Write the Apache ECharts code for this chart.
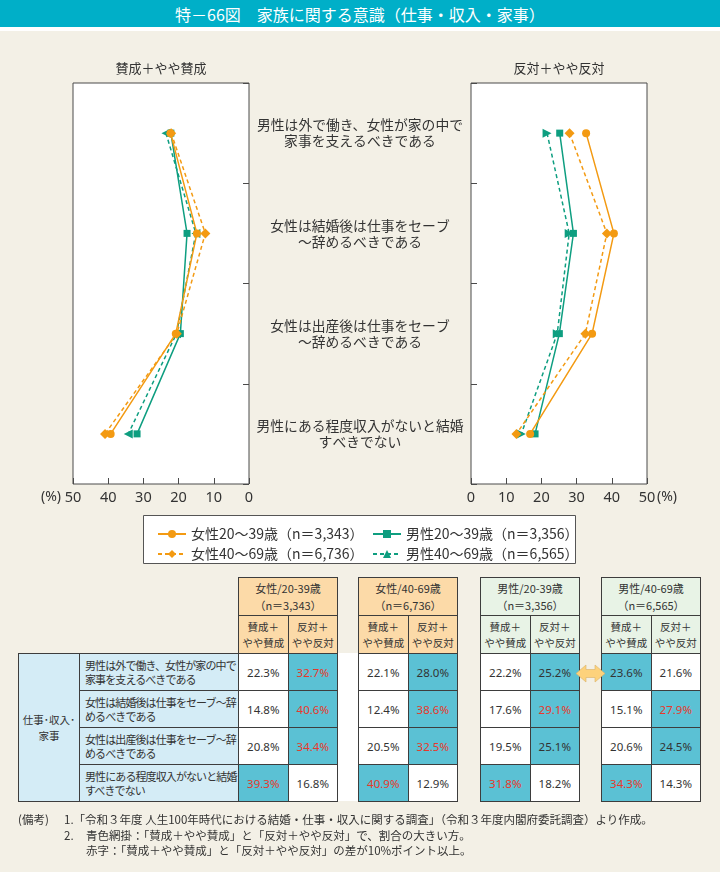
<!DOCTYPE html>
<html>
<head>
<meta charset="utf-8">
<script src="https://cdn.jsdelivr.net/npm/echarts@6/dist/echarts.min.js"></script>
<style>
body { margin: 0; background: #F3F0E6; font-family: "Noto Sans CJK JP", "Noto Sans", sans-serif; color: #333; }
#page { position: relative; width: 720px; height: 872px; overflow: hidden; background: #F3F0E6; }
#title { position: absolute; left: 0; top: 0; width: 720px; height: 27px; background: #00AFC8; color: #fff;
  font-size: 16px; line-height: 28px; text-align: center; border-bottom: 4px solid #fff; z-index: 3; }
#chart { position: absolute; left: 0; top: 0; width: 720px; height: 572px; }
#table { position: absolute; left: 0; top: 0; width: 720px; height: 872px; pointer-events: none; }
.cell { position: absolute; box-sizing: border-box; border: 1px solid #3d3d3d; display: flex;
  align-items: center; justify-content: center; text-align: center; white-space: pre; }
.note { position: absolute; font-size: 11.5px; line-height: 16px; white-space: pre; color: #333; }
</style>
</head>
<body>
<div id="page">
  <div id="title">特－66図　家族に関する意識（仕事・収入・家事）</div>
  <div id="chart"></div>
  <div id="table"></div>
  <div class="note" style="left:18px;top:811px">(備考)</div>
  <div class="note" style="left:64px;top:811px">1.「令和３年度 人生100年時代における結婚・仕事・収入に関する調査」（令和３年度内閣府委託調査）より作成。</div>
  <div class="note" style="left:64px;top:827px">2.</div>
  <div class="note" style="left:86px;top:827px">青色網掛：「賛成＋やや賛成」と「反対＋やや反対」で、割合の大きい方。</div>
  <div class="note" style="left:86px;top:842px">赤字：「賛成＋やや賛成」と「反対＋やや反対」の差が10%ポイント以上。</div>
</div>
<script>
// categories (chart and table break lines differently)
const chartLabels = [
  '男性は外で働き、女性が家の中で\n家事を支えるべきである',
  '女性は結婚後は仕事をセーブ\n～辞めるべきである',
  '女性は出産後は仕事をセーブ\n～辞めるべきである',
  '男性にある程度収入がないと結婚\nすべきでない'
]
const tableLabels = [
  '男性は外で働き、女性が家の中で\n家事を支えるべきである',
  '女性は結婚後は仕事をセーブ～辞\nめるべきである',
  '女性は出産後は仕事をセーブ～辞\nめるべきである',
  '男性にある程度収入がないと結婚\nすべきでない'
]
const seriesNames = ['女性20〜39歳（n＝3,343）', '女性40〜69歳（n＝6,736）', '男性20〜39歳（n＝3,356）', '男性40〜69歳（n＝6,565）']
const groupNames = ['女性/20-39歳', '女性/40-69歳', '男性/20-39歳', '男性/40-69歳']
const groupN = ['（n＝3,343）', '（n＝6,736）', '（n＝3,356）', '（n＝6,565）']
const subHeads = ['賛成＋\nやや賛成', '反対＋\nやや反対']
const rowGroup = '仕事･収入･\n家事'

// 賛成＋やや賛成 / 反対＋やや反対 (%)
const agreeF20 = [22.3, 14.8, 20.8, 39.3]
const opposeF20 = [32.7, 40.6, 34.4, 16.8]
const agreeF40 = [22.1, 12.4, 20.5, 40.9]
const opposeF40 = [28.0, 38.6, 32.5, 12.9]
const agreeM20 = [22.2, 17.6, 19.5, 31.8]
const opposeM20 = [25.2, 29.1, 25.1, 18.2]
const agreeM40 = [23.6, 15.1, 20.6, 34.3]
const opposeM40 = [21.6, 27.9, 24.5, 14.3]

const agreeAll = [agreeF20, agreeF40, agreeM20, agreeM40]
const opposeAll = [opposeF20, opposeF40, opposeM20, opposeM40]

const ORANGE = '#F39A12'
const GREEN = '#0E9E80'
const marks = [
  { color: ORANGE, symbol: 'circle', size: 8, type: 'solid' },
  { color: ORANGE, symbol: 'diamond', size: 10, type: [4, 3] },
  { color: GREEN, symbol: 'rect', size: 7, type: 'solid' },
  { color: GREEN, symbol: 'triangle', size: 9, type: [4, 3] }
]

function makeSeries (gi, values, rot) {
  return values.map((v, i) => ({
    name: seriesNames[i],
    type: 'line',
    xAxisIndex: gi,
    yAxisIndex: gi,
    data: v,
    symbol: marks[i].symbol,
    symbolSize: marks[i].size,
    symbolRotate: marks[i].symbol === 'triangle' ? rot : 0,
    showAllSymbol: true,
    lineStyle: { color: marks[i].color, width: 1.5, type: marks[i].type },
    itemStyle: { color: marks[i].color },
    z: 10 - i
  }))
}

const axisCommon = {
  type: 'value', min: 0, max: 50, interval: 10,
  axisLine: { show: false },
  axisTick: { show: true, inside: true, length: 6, lineStyle: { color: '#4a4a4a' } },
  axisLabel: { fontSize: 14.5, color: '#333', margin: 6, fontFamily: 'Noto Sans' },
  splitLine: { show: false }
}
const yCommon = {
  type: 'category', inverse: true, data: chartLabels,
  axisLine: { show: false },
  axisTick: { show: true, inside: true, length: 6, lineStyle: { color: '#4a4a4a' } }
}

const chart = echarts.init(document.getElementById('chart'))
chart.setOption({
  animation: false,
  textStyle: { fontFamily: 'Noto Sans CJK JP' },
  grid: [
    { left: 73, top: 83, width: 176, height: 401, show: true, backgroundColor: '#fff', borderColor: '#4a4a4a', borderWidth: 1 },
    { left: 471, top: 83, width: 176, height: 401, show: true, backgroundColor: '#fff', borderColor: '#4a4a4a', borderWidth: 1 }
  ],
  xAxis: [
    Object.assign({}, axisCommon, { gridIndex: 0, inverse: true }),
    Object.assign({}, axisCommon, { gridIndex: 1 })
  ],
  yAxis: [
    Object.assign({}, yCommon, {
      gridIndex: 0, position: 'right',
      axisLabel: { show: true, align: 'center', margin: 111, fontSize: 13.8, lineHeight: 16, color: '#333' }
    }),
    Object.assign({}, yCommon, { gridIndex: 1, position: 'left', axisLabel: { show: false } })
  ],
  legend: [
    { left: 152, top: 522, orient: 'vertical', itemWidth: 28, itemHeight: 10, itemGap: 6, z: 5,
      symbolRotate: 0, data: [seriesNames[0], seriesNames[1]], textStyle: { fontSize: 14, color: '#333' } },
    { left: 367, top: 522, orient: 'vertical', itemWidth: 28, itemHeight: 10, itemGap: 6, z: 5,
      symbolRotate: 0, data: [seriesNames[2], seriesNames[3]], textStyle: { fontSize: 14, color: '#333' } }
  ],
  graphic: [
    { type: 'rect', z: 1, shape: { x: 143.5, y: 515.5, width: 432, height: 48 }, style: { fill: '#fff', stroke: '#555', lineWidth: 1 } },
    { type: 'text', x: 161, y: 68, style: { text: '賛成＋やや賛成', fontSize: 13, fill: '#333', align: 'center', verticalAlign: 'middle', fontFamily: 'Noto Sans CJK JP' } },
    { type: 'text', x: 559, y: 68, style: { text: '反対＋やや反対', fontSize: 13, fill: '#333', align: 'center', verticalAlign: 'middle', fontFamily: 'Noto Sans CJK JP' } },
    { type: 'text', x: 51, y: 497, style: { text: '(%)', fontSize: 14, fill: '#333', align: 'center', verticalAlign: 'middle', fontFamily: 'Noto Sans' } },
    { type: 'text', x: 667, y: 497, style: { text: '(%)', fontSize: 14, fill: '#333', align: 'center', verticalAlign: 'middle', fontFamily: 'Noto Sans' } }
  ],
  series: makeSeries(0, agreeAll, 90).concat(makeSeries(1, opposeAll, -90))
})

// table
const tbl = document.getElementById('table')
function cell (x, y, w, h, bg, text, css) {
  const d = document.createElement('div')
  d.className = 'cell'
  d.style.left = x + 'px'
  d.style.top = y + 'px'
  d.style.width = (w + 1) + 'px'
  d.style.height = (h + 1) + 'px'
  d.style.background = bg
  d.textContent = text
  if (css) Object.assign(d.style, css)
  tbl.appendChild(d)
  return d
}
const rowTop = 653
const rowH = 37
const groupX = [238, 358, 480, 601]
const groupW = 99
const headBg = ['#FCDAA8', '#FCDAA8', '#E8F3E6', '#E8F3E6']
const HI = '#5BC1D4'
const RED = '#E8382B'

// white strip between first two groups
const strip = document.createElement('div')
Object.assign(strip.style, { position: 'absolute', left: '337px', top: rowTop + 'px', width: '21px', height: (rowH * 4) + 'px', background: '#fff' })
tbl.appendChild(strip)

cell(18, rowTop, 61, rowH * 4, '#D4ECF6', rowGroup, { fontSize: '10.5px', lineHeight: '16px' })
tableLabels.forEach((t, r) => {
  cell(79, rowTop + r * rowH, 159, rowH, '#D4ECF6', t, {
    fontSize: '11px', letterSpacing: '-0.9px', lineHeight: '14.5px', justifyContent: 'flex-start', textAlign: 'left', paddingLeft: '5px'
  })
})
groupX.forEach((gx, g) => {
  const half = groupW / 2
  cell(gx, 577, groupW, 38, headBg[g], groupNames[g] + '\n' + groupN[g], { fontSize: '11px', lineHeight: '16.5px' })
  subHeads.forEach((s, k) => {
    cell(gx + k * half, 615, half, 38, headBg[g], s, { fontSize: '10.5px', lineHeight: '16px' })
  })
  for (let r = 0; r < 4; r++) {
    const a = agreeAll[g][r]
    const o = opposeAll[g][r]
    const red = Math.abs(a - o) >= 10
    ;[a, o].forEach((v, k) => {
      const big = v === Math.max(a, o)
      cell(gx + k * half, rowTop + r * rowH, half, rowH, big ? HI : '#fff', v.toFixed(1) + '%', {
        fontSize: '11.5px', fontFamily: 'Noto Sans', color: big && red ? RED : '#333'
      })
    })
  }
})

// double arrow between 男性 groups
const svgNS = 'http://www.w3.org/2000/svg'
const svg = document.createElementNS(svgNS, 'svg')
svg.setAttribute('width', '720')
svg.setAttribute('height', '872')
svg.style.position = 'absolute'
svg.style.left = '0'
svg.style.top = '0'
const poly = document.createElementNS(svgNS, 'polygon')
poly.setAttribute('points', '576,673.5 586,665 586,669.5 595,669.5 595,665 605,673.5 595,682 595,677.5 586,677.5 586,682')
poly.setAttribute('fill', '#FDD27C')
poly.setAttribute('stroke', '#D9B26A')
poly.setAttribute('stroke-width', '0.6')
svg.appendChild(poly)
tbl.appendChild(svg)
</script>
</body>
</html>
